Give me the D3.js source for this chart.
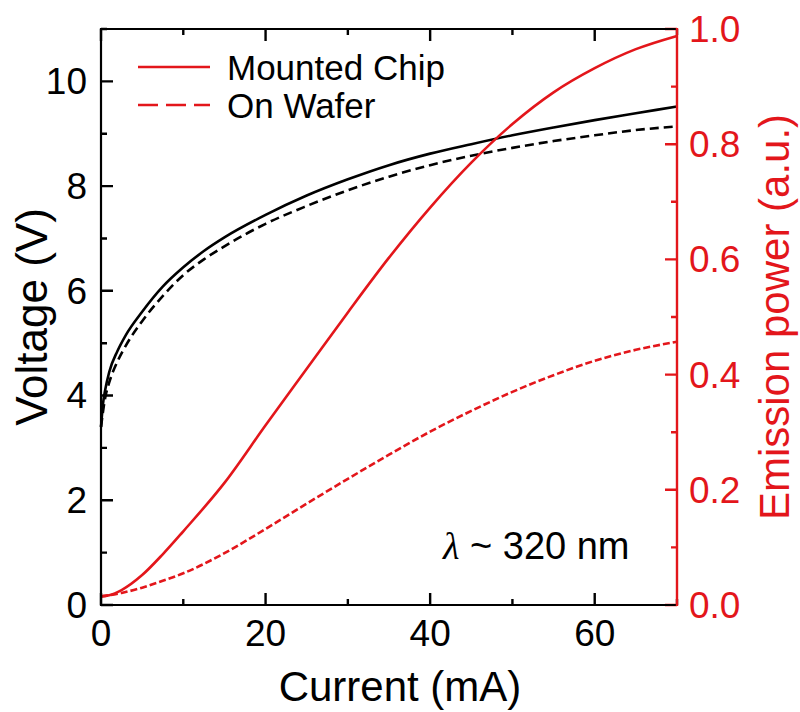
<!DOCTYPE html>
<html><head><meta charset="utf-8">
<script src="https://cdn.jsdelivr.net/npm/d3@7/dist/d3.min.js"></script>
<style>body{margin:0;background:#fff}svg{display:block}</style>
</head><body>
<svg id="c" width="800" height="712"></svg>
<script>
// ---- data ----
const currentV = [0,0.25,0.5,1,2,3,5,7.5,10,12.5,15,20,25,30,35,40,45,50,55,60,65,70];
const voltageMounted = [3.4,3.85,4.1,4.45,4.85,5.15,5.6,6.08,6.45,6.76,7.02,7.45,7.82,8.13,8.4,8.62,8.8,8.97,9.12,9.26,9.39,9.52];
const voltageWafer   = [3.4,3.7,3.95,4.25,4.65,4.95,5.42,5.9,6.3,6.6,6.85,7.28,7.62,7.92,8.18,8.4,8.58,8.73,8.86,8.97,9.07,9.14];
const currentP = [0,1,2.5,5,7.5,10,15,20,25,30,35,40,45,50,55,60,65,70];
const powerMounted = [0.015,0.017,0.026,0.052,0.088,0.128,0.212,0.312,0.41,0.508,0.603,0.69,0.768,0.835,0.89,0.932,0.965,0.988];
const powerWafer   = [0.015,0.017,0.021,0.03,0.042,0.055,0.09,0.132,0.176,0.219,0.261,0.301,0.337,0.37,0.399,0.424,0.443,0.457];
const xTicks = [0,20,40,60];
const xMinor = [10,30,50,70];
const vTicks = [0,2,4,6,8,10];
const vMinor = [1,3,5,7,9,11];
const pTicks = [0,0.2,0.4,0.6,0.8,1.0];
const pMinor = [0.1,0.3,0.5,0.7,0.9];
const legendLabels = ["Mounted Chip","On Wafer"];

const RED = "#e3161b";
const FONT = "'Liberation Sans', Arial, sans-serif";
const TICKFS = 37;
const svg = d3.select("#c");
const L=101, R=677, T=29, B=605;
const x = d3.scaleLinear().domain([0,70]).range([L,R]);
const yV = d3.scaleLinear().domain([0,11]).range([B,T]);
const yP = d3.scaleLinear().domain([0,1]).range([B,T]);

function line(xs, ys, scale){
  return d3.line().x((d,i)=>x(xs[i])).y(d=>scale(d)).curve(d3.curveMonotoneX)(ys);
}
const g = svg.append("g");
g.append("path").attr("d",line(currentV,voltageMounted,yV)).attr("fill","none").attr("stroke","#000").attr("stroke-width",2.6);
g.append("path").attr("d",line(currentV,voltageWafer,yV)).attr("fill","none").attr("stroke","#000").attr("stroke-width",2.6).attr("stroke-dasharray","9,5");
g.append("path").attr("d",line(currentP,powerMounted,yP)).attr("fill","none").attr("stroke",RED).attr("stroke-width",2.6);
g.append("path").attr("d",line(currentP,powerWafer,yP)).attr("fill","none").attr("stroke",RED).attr("stroke-width",2.6).attr("stroke-dasharray","7,3");

// ticks (drawn inward from each axis) as paths
function hTickPath(vals, scale, y0, len){
  return vals.map(d=>`M${scale(d)},${y0}V${y0+len}`).join("");
}
function vTickPath(vals, scale, x0, len){
  return vals.map(d=>`M${x0},${scale(d)}H${x0+len}`).join("");
}
const tickG = svg.append("g").attr("fill","none").attr("stroke-width",2.4);
tickG.append("path").attr("stroke","#000").attr("d",
  hTickPath(xTicks,x,B,-12)+hTickPath(xMinor,x,B,-6)+hTickPath(xTicks,x,T,12)+hTickPath(xMinor,x,T,6)+
  vTickPath(vTicks,yV,L,12)+vTickPath(vMinor,yV,L,6));
tickG.append("path").attr("stroke",RED).attr("d",
  vTickPath(pTicks,yP,R,-12)+vTickPath(pMinor,yP,R,-6));

// tick labels
svg.append("g").selectAll("text").data(xTicks).join("text")
  .attr("x",d=>x(d)).attr("y",B+15).attr("dy","0.71em").attr("text-anchor","middle")
  .attr("font-family",FONT).attr("font-size",TICKFS).text(d3.format("d"));
svg.append("g").selectAll("text").data(vTicks).join("text")
  .attr("x",L-14).attr("y",d=>yV(d)).attr("dy","0.35em").attr("text-anchor","end")
  .attr("font-family",FONT).attr("font-size",TICKFS).text(d3.format("d"));
svg.append("g").selectAll("text").data(pTicks).join("text")
  .attr("x",R+12).attr("y",d=>yP(d)).attr("dy","0.35em").attr("text-anchor","start")
  .attr("font-family",FONT).attr("font-size",TICKFS).attr("fill",RED).text(d3.format(".1f"));

// frame
svg.append("path").attr("d",`M${R},${T}H${L}V${B}H${R}`).attr("fill","none").attr("stroke","#000").attr("stroke-width",2.2);
svg.append("line").attr("x1",R).attr("x2",R).attr("y1",T-1).attr("y2",B+1).attr("stroke",RED).attr("stroke-width",2.4);

// axis titles
svg.append("text").attr("x",400).attr("y",701).attr("text-anchor","middle")
  .attr("font-family",FONT).attr("font-size",42).text("Current (mA)");
svg.append("text").attr("transform",`translate(47,${(T+B)/2}) rotate(-90)`).attr("text-anchor","middle")
  .attr("font-family",FONT).attr("font-size",44).text("Voltage (V)");
svg.append("text").attr("transform",`translate(789,${(T+B)/2}) rotate(-90)`).attr("text-anchor","middle")
  .attr("font-family",FONT).attr("font-size",42).attr("fill",RED).text("Emission power (a.u.)");

// legend
const leg = svg.append("g");
[0,1].forEach(i=>{
  const yy = 67 + i*38;
  leg.append("line").attr("x1",138).attr("x2",210).attr("y1",yy).attr("y2",yy)
    .attr("stroke",RED).attr("stroke-width",2.6).attr("stroke-dasharray", i? "20,8" : null);
  leg.append("text").attr("x",227).attr("y",yy).attr("dy","0.36em")
    .attr("font-family",FONT).attr("font-size",35).text(legendLabels[i]);
});

// annotation
const ann = svg.append("text").attr("x",443).attr("y",559).attr("font-family",FONT).attr("font-size",38);
ann.append("tspan").attr("font-family","'Liberation Serif', 'DejaVu Serif', serif").attr("font-style","italic").text("λ");
ann.append("tspan").text(" ~ 320 nm");
</script>
</body></html>
